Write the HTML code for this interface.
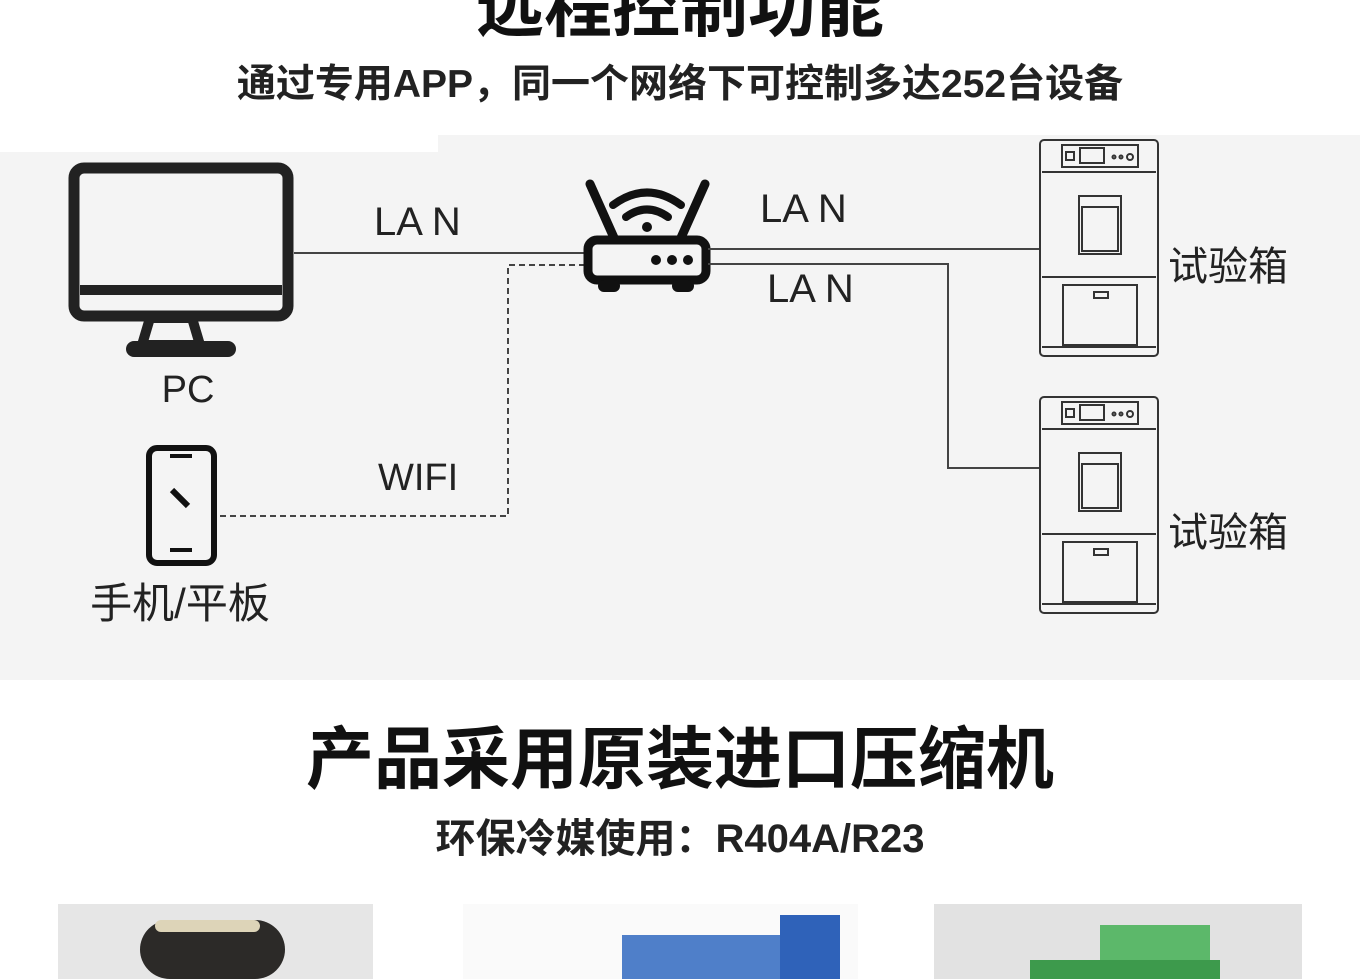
<!DOCTYPE html>
<html><head><meta charset="utf-8"><style>
body{margin:0;width:1360px;height:979px;overflow:hidden;background:#fff;font-family:"Liberation Sans","Noto Sans CJK SC",sans-serif;position:relative}
.t{position:absolute;left:0;width:1360px;text-align:center;font-weight:bold;color:#111;white-space:nowrap}
</style></head><body>
<div class="t" style="top:-30px;font-size:68px;line-height:76px">远程控制功能</div>
<div class="t" style="top:61px;font-size:39px;line-height:48px;color:#222">通过专用APP，同一个网络下可控制多达252台设备</div>
<svg style="position:absolute;left:0;top:0" width="1360" height="979" font-family="Liberation Sans, Noto Sans CJK SC, sans-serif">
<path d="M0 152 H438 V135 H1360 V680 H0 Z" fill="#f4f4f4"/>
<rect x="74" y="168" width="214" height="148" rx="10" fill="none" stroke="#222" stroke-width="11"/>
<rect x="80" y="285" width="202" height="10" fill="#222"/>
<path d="M150 318 L142 345 H200 L192 318 Z" fill="none" stroke="#222" stroke-width="10"/>
<rect x="126" y="341" width="110" height="16" rx="8" fill="#222"/>
<text x="188" y="402" font-size="38" text-anchor="middle" fill="#222">PC</text>
<rect x="149" y="448" width="65" height="115" rx="8" fill="none" stroke="#111" stroke-width="6"/>
<rect x="170" y="454" width="22" height="4" fill="#111"/>
<rect x="170" y="548" width="22" height="4" fill="#111"/>
<line x1="172" y1="490" x2="188" y2="506" stroke="#111" stroke-width="6"/>
<text x="180" y="618" font-size="42" text-anchor="middle" fill="#222">手机/平板</text>
<line x1="294" y1="253" x2="590" y2="253" stroke="#444" stroke-width="2"/>
<path d="M220 516 H508 V265 H588" fill="none" stroke="#444" stroke-width="2" stroke-dasharray="6,4"/>
<text x="374" y="235" font-size="40" fill="#222">LA N</text>
<text x="378" y="490" font-size="38" fill="#222">WIFI</text>
<path d="M590 184 L615 240 M705 184 L680 240" stroke="#111" stroke-width="9" stroke-linecap="round"/>
<rect x="588" y="240" width="118" height="40" rx="9" fill="none" stroke="#111" stroke-width="9"/>
<circle cx="656" cy="260" r="5" fill="#111"/><circle cx="672" cy="260" r="5" fill="#111"/><circle cx="688" cy="260" r="5" fill="#111"/>
<rect x="598" y="280" width="22" height="12" rx="6" fill="#111"/><rect x="672" y="280" width="22" height="12" rx="6" fill="#111"/>
<path d="M613 205 Q647 180 681 205" fill="none" stroke="#111" stroke-width="8" stroke-linecap="round"/>
<path d="M626 217 Q647 202 668 217" fill="none" stroke="#111" stroke-width="8" stroke-linecap="round"/>
<circle cx="647" cy="227" r="5" fill="#111"/>
<line x1="708" y1="249" x2="1040" y2="249" stroke="#444" stroke-width="2"/>
<path d="M708 264 H948 V468 H1040" fill="none" stroke="#444" stroke-width="2"/>
<text x="760" y="222" font-size="40" fill="#222">LA N</text>
<text x="767" y="302" font-size="40" fill="#222">LA N</text>
<g id="c" fill="none" stroke="#333" stroke-width="2">
<rect x="1040" y="140" width="118" height="216" rx="4"/>
<rect x="1062" y="145" width="76" height="22"/>
<rect x="1066" y="152" width="8" height="8"/><rect x="1080" y="148" width="24" height="15"/>
<circle cx="1114" cy="157" r="1.5"/><circle cx="1121" cy="157" r="1.5"/><circle cx="1130" cy="157" r="3"/>
<line x1="1042" y1="172" x2="1156" y2="172"/>
<rect x="1079" y="196" width="42" height="58"/><rect x="1082" y="207" width="36" height="44"/>
<line x1="1042" y1="277" x2="1156" y2="277"/>
<rect x="1063" y="285" width="74" height="60"/><rect x="1094" y="292" width="14" height="6"/>
<line x1="1042" y1="347" x2="1156" y2="347"/>
</g>
<use href="#c" y="257"/>
<text x="1168" y="280" font-size="40" fill="#222">试验箱</text>
<text x="1168" y="546" font-size="40" fill="#222">试验箱</text>
<rect x="58" y="904" width="315" height="75" fill="#e6e6e6"/>
<rect x="140" y="920" width="145" height="59" rx="30" fill="#2c2a28"/>
<rect x="155" y="920" width="105" height="12" rx="6" fill="#ddd4b8"/>
<rect x="463" y="904" width="395" height="75" fill="#fafafa"/>
<rect x="622" y="935" width="164" height="44" fill="#4f7fc9"/>
<rect x="780" y="915" width="60" height="64" fill="#2f62b9"/>
<rect x="934" y="904" width="368" height="75" fill="#e2e2e2"/>
<rect x="1100" y="925" width="110" height="54" fill="#5cb86a"/>
<rect x="1030" y="960" width="190" height="19" fill="#3d9a4c"/>
</svg>
<div class="t" style="top:722px;font-size:68px;line-height:76px">产品采用原装进口压缩机</div>
<div class="t" style="top:815px;font-size:40px;line-height:48px;color:#222">环保冷媒使用：R404A/R23</div>
</body></html>
